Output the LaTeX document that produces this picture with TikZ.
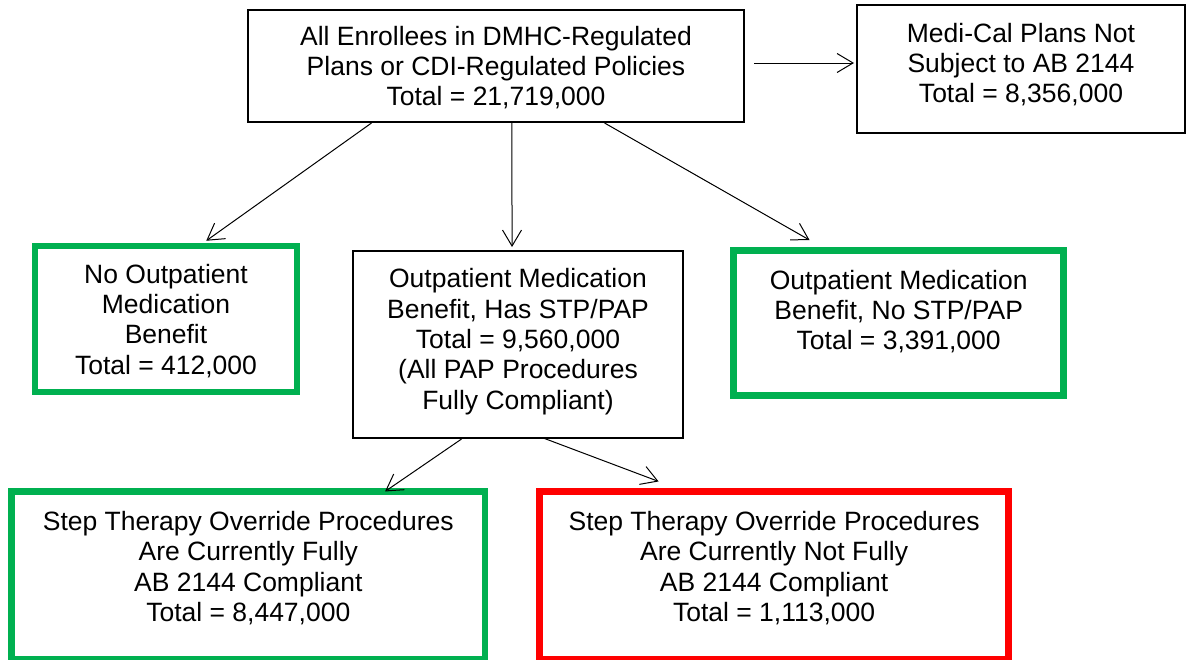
\documentclass[tikz,border=0pt]{standalone}
\usepackage{fontspec}
\setmainfont{Liberation Sans}
\usetikzlibrary{arrows.meta,calc}
\definecolor{boxgreen}{RGB}{0,176,80}
\definecolor{boxred}{RGB}{255,0,0}
\newcommand\liftxt[2]{\raisebox{#1}[\height][\depth]{\begin{tabular}{@{}c@{}}#2\end{tabular}}}
\begin{document}
\begin{tikzpicture}[x=1pt,y=-1pt,
  every node/.style={font=\fontsize{26.5}{30.3}\selectfont, inner sep=0pt},
  plainbox/.style={draw=black, line width=2pt, rectangle},
  greenbox/.style={draw=boxgreen, line width=6.5pt, rectangle},
  redbox/.style={draw=boxred, line width=6.5pt, rectangle},
  conn/.style={line width=1pt, -{Straight Barb[length=16pt,width=19pt,line width=1pt]}}]
\useasboundingbox (0,0) rectangle (1188,659);
\node[plainbox, minimum width=496, minimum height=112] (top) at (496,66)
  {\liftxt{-3.5pt}{All Enrollees in DMHC-Regulated\\Plans or CDI-Regulated Policies\\Total = 21,719,000}};
\node[plainbox, minimum width=328, minimum height=128] (medi) at (1021,69)
  {\liftxt{2.5pt}{Medi-Cal Plans Not\\Subject to AB 2144\\Total = 8,356,000}};
\node[greenbox, minimum width=262, minimum height=146] (noout) at (166,319)
  {\liftxt{-3.5pt}{No Outpatient\\Medication\\Benefit\\Total = 412,000}};
\node[plainbox, minimum width=330, minimum height=187] (mid) at (518,344.5)
  {\liftxt{2pt}{Outpatient Medication\\Benefit, Has STP/PAP\\Total = 9,560,000\\(All PAP Procedures\\Fully Compliant)}};
\node[greenbox, minimum width=330, minimum height=145.4] (right) at (898.7,323)
  {\liftxt{9.5pt}{Outpatient Medication\\Benefit, No STP/PAP\\Total = 3,391,000}};
\node[greenbox, minimum width=473.3, minimum height=167.6] (bl) at (248.3,575.5)
  {\liftxt{5.5pt}{Step Therapy Override Procedures\\Are Currently Fully\\AB 2144 Compliant\\Total = 8,447,000}};
\node[redbox, minimum width=468.8, minimum height=167.6] (br) at (774.1,575.5)
  {\liftxt{5.5pt}{Step Therapy Override Procedures\\Are Currently Not Fully\\AB 2144 Compliant\\Total = 1,113,000}};
% connectors
\draw[conn] ($(top.east)+(9,-3)$) -- ($(medi.west)+(-2,-6)$);
\draw[conn] ($(top.south west)!0.25!(top.south east)$) -- ($(noout.north west)!0.65!(noout.north east)+(0,-2)$);
\draw[conn] ($(top.south west)!0.532!(top.south east)$) -- ($(mid.north west)!0.482!(mid.north east)+(0,-3)$);
\draw[conn] ($(top.south west)!0.718!(top.south east)$) -- ($(right.north west)!0.235!(right.north east)+(0,-7)$);
\draw[conn] ($(mid.south west)!0.33!(mid.south east)$) -- ($(bl.north west)!0.785!(bl.north east)+(0,3)$);
\draw[conn] ($(mid.south west)!0.576!(mid.south east)+(0,-1)$) -- ($(br.north west)!0.257!(br.north east)+(0,-7)$);
\end{tikzpicture}
\end{document}
